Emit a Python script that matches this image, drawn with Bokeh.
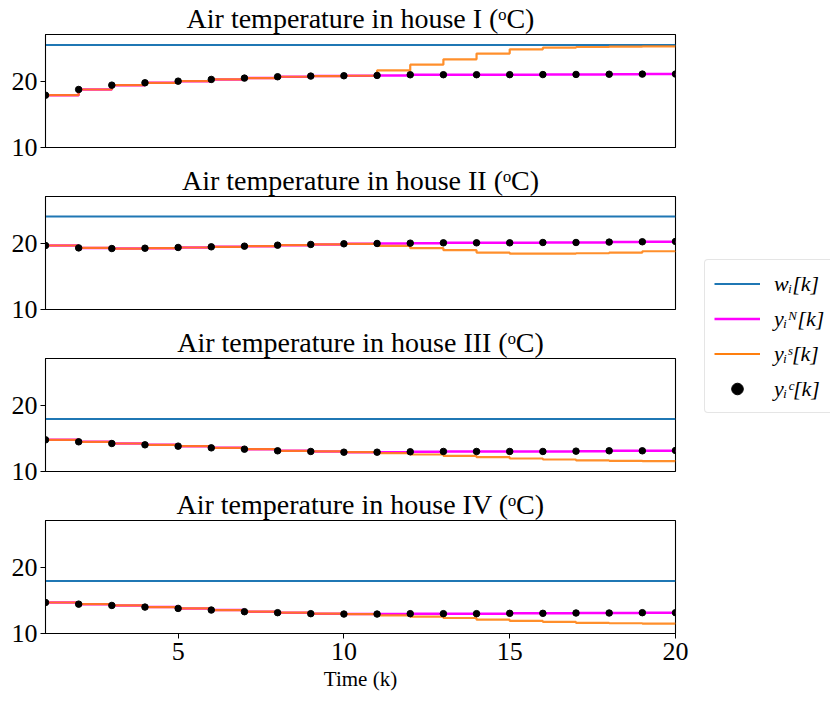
from bokeh.plotting import figure
from bokeh.layouts import column, row
from bokeh.models import Legend, LegendItem, Range1d, FixedTicker
from bokeh.embed import file_html
from bokeh.resources import INLINE

# ---------------- data ----------------
k = list(range(1, 21))

titles = [
    "Air temperature in house I (ᵒC)",
    "Air temperature in house II (ᵒC)",
    "Air temperature in house III (ᵒC)",
    "Air temperature in house IV (ᵒC)",
]

# reference temperatures w_i[k]
w_ref = [25.6, 24.15, 18.0, 18.0]

# house I
yN_1 = [17.96, 18.83, 19.49, 19.85, 20.10, 20.36, 20.56, 20.77, 20.87, 20.92,
        20.97, 21.07, 21.08, 21.08, 21.09, 21.10, 21.12, 21.15, 21.17, 21.18]
yS_1 = [17.96, 18.83, 19.49, 19.85, 20.10, 20.36, 20.56, 20.77, 20.87, 20.92,
        21.73, 22.60, 23.42, 24.29, 24.95, 25.20, 25.30, 25.36, 25.40, 25.40]
yC_1 = [17.96, 18.83, 19.49, 19.85, 20.10, 20.36, 20.56, 20.77, 20.87, 20.92,
        20.97, 21.07, 21.08, 21.08, 21.09, 21.10, 21.12, 21.15, 21.17, 21.18]

# house II
yN_2 = [19.74, 19.38, 19.28, 19.33, 19.44, 19.54, 19.64, 19.79, 19.90, 20.00,
        20.05, 20.10, 20.15, 20.15, 20.15, 20.20, 20.20, 20.26, 20.31, 20.36]
yS_2 = [19.74, 19.38, 19.28, 19.33, 19.44, 19.54, 19.64, 19.79, 19.90, 20.00,
        19.69, 19.33, 19.03, 18.67, 18.51, 18.51, 18.56, 18.67, 18.87, 18.92]
yC_2 = [19.74, 19.38, 19.28, 19.33, 19.44, 19.54, 19.64, 19.79, 19.90, 20.00,
        20.05, 20.10, 20.15, 20.15, 20.15, 20.20, 20.20, 20.26, 20.31, 20.36]

# house III
yN_3 = [14.82, 14.52, 14.26, 14.06, 13.86, 13.60, 13.40, 13.15, 13.05, 12.94,
        12.94, 13.00, 13.05, 13.05, 13.05, 13.05, 13.10, 13.15, 13.15, 13.20]
yS_3 = [14.82, 14.52, 14.26, 14.06, 13.86, 13.60, 13.40, 13.15, 13.05, 12.94,
        12.79, 12.59, 12.39, 12.18, 11.98, 11.83, 11.68, 11.62, 11.57, 11.55]
yC_3 = [14.82, 14.52, 14.26, 14.06, 13.86, 13.60, 13.40, 13.15, 13.05, 12.94,
        12.94, 13.00, 13.05, 13.05, 13.05, 13.05, 13.10, 13.15, 13.15, 13.20]

# house IV
yN_4 = [14.72, 14.47, 14.27, 14.02, 13.82, 13.57, 13.32, 13.17, 13.02, 12.96,
        12.96, 13.02, 13.02, 13.02, 13.07, 13.07, 13.12, 13.12, 13.17, 13.17]
yS_4 = [14.72, 14.47, 14.27, 14.02, 13.82, 13.57, 13.32, 13.17, 13.02, 12.96,
        12.76, 12.56, 12.36, 12.11, 11.91, 11.76, 11.61, 11.56, 11.51, 11.50]
yC_4 = [14.72, 14.47, 14.27, 14.02, 13.82, 13.57, 13.32, 13.17, 13.02, 12.96,
        12.96, 13.02, 13.02, 13.02, 13.07, 13.07, 13.12, 13.12, 13.17, 13.17]

yN = [yN_1, yN_2, yN_3, yN_4]
yS = [yS_1, yS_2, yS_3, yS_4]
yC = [yC_1, yC_2, yC_3, yC_4]

y_ticks = [10, 20]
x_ticks = [5, 10, 15, 20]
legend_labels = ["wᵢ[k]", "yᵢᴺ[k]", "yᵢˢ[k]", "yᵢᶜ[k]"]

# ---------------- style ----------------
BLUE = "#1f77b4"
MAGENTA = "#ff00ff"
ORANGE = "#ff7f0e"
FONT = "Liberation Serif"

figs = []
for i in range(4):
    last = (i == 3)
    p = figure(frame_width=630, frame_height=113,
               x_range=Range1d(1, 20), y_range=Range1d(10, 27.2),
               output_backend="svg", toolbar_location=None,
               min_border_left=45, min_border_right=15,
               min_border_top=0, min_border_bottom=(4 if last else 15))
    p.title.text = titles[i]
    p.title.align = "center"
    p.title.text_font = FONT
    p.title.text_font_size = "28px"
    p.title.text_font_style = "normal"
    p.title.text_color = "black"
    p.title.standoff = 1
    p.title.offset = 0
    p.grid.visible = False
    p.outline_line_color = "black"
    p.outline_line_width = 1.1
    p.outline_line_alpha = 1.0
    p.background_fill_color = "white"

    ya = p.yaxis[0]
    ya.ticker = FixedTicker(ticks=y_ticks)
    ya.major_label_text_font = FONT
    ya.major_label_text_font_size = "26px"
    ya.major_label_text_color = "black"
    ya.major_tick_out = 5
    ya.major_tick_in = 0
    ya.minor_tick_out = 0
    ya.minor_tick_in = 0
    ya.axis_line_color = "black"
    ya.major_tick_line_color = "black"
    ya.major_label_standoff = 3

    xa = p.xaxis[0]
    if last:
        xa.ticker = FixedTicker(ticks=x_ticks)
        xa.major_label_text_font = FONT
        xa.major_label_text_font_size = "26px"
        xa.major_label_text_color = "black"
        xa.major_tick_out = 5
        xa.major_tick_in = 0
        xa.minor_tick_out = 0
        xa.minor_tick_in = 0
        xa.axis_line_color = "black"
        xa.major_tick_line_color = "black"
        xa.major_label_standoff = 4
        xa.axis_label = "Time (k)"
        xa.axis_label_text_font = FONT
        xa.axis_label_text_font_size = "21px"
        xa.axis_label_text_font_style = "normal"
        xa.axis_label_text_color = "black"
        xa.axis_label_standoff = 4
    else:
        xa.visible = False

    p.line(k, [w_ref[i]] * len(k), color=BLUE, line_width=2)
    p.step(k, yN[i], mode="after", color=MAGENTA, line_width=2.5)
    p.step(k, yS[i], mode="after", color=ORANGE, line_width=2.2, line_alpha=0.88)
    p.scatter(k, yC[i], size=6.5, color="black")
    figs.append(p)

# ---------------- legend (separate panel) ----------------
H = 690
nan = float("nan")
lf = figure(width=140, height=H, output_backend="svg", toolbar_location=None,
            x_range=Range1d(0, 1), y_range=Range1d(0, 1),
            x_axis_type=None, y_axis_type=None, min_border=0)
lf.grid.visible = False
lf.outline_line_color = None
r1 = lf.line(x=[nan, nan], y=[nan, nan], color=BLUE, line_width=2)
r2 = lf.line(x=[nan, nan], y=[nan, nan], color=MAGENTA, line_width=2.5)
r3 = lf.line(x=[nan, nan], y=[nan, nan], color=ORANGE, line_width=2.2)
r4 = lf.scatter(x=[nan], y=[nan], color="black", size=6)
items = [LegendItem(label=lab, renderers=[r]) for lab, r in zip(legend_labels, [r1, r2, r3, r4])]
legend = Legend(items=items, location=(14, H - 413))
legend.border_line_color = "#cccccc"
legend.border_line_width = 1
legend.background_fill_alpha = 0.8
legend.label_text_font = FONT
legend.label_text_font_style = "italic"
legend.label_text_font_size = "22px"
legend.label_text_color = "black"
legend.glyph_width = 46
legend.glyph_height = 29
legend.label_height = 29
legend.spacing = 6
legend.padding = 9
legend.margin = 0
legend.label_standoff = 14
if "border_radius" in Legend.properties():
    legend.border_radius = 4
lf.add_layout(legend)

layout = row(column(*figs), lf)

with open("out.html", "w") as f:
    f.write(file_html(layout, INLINE))
